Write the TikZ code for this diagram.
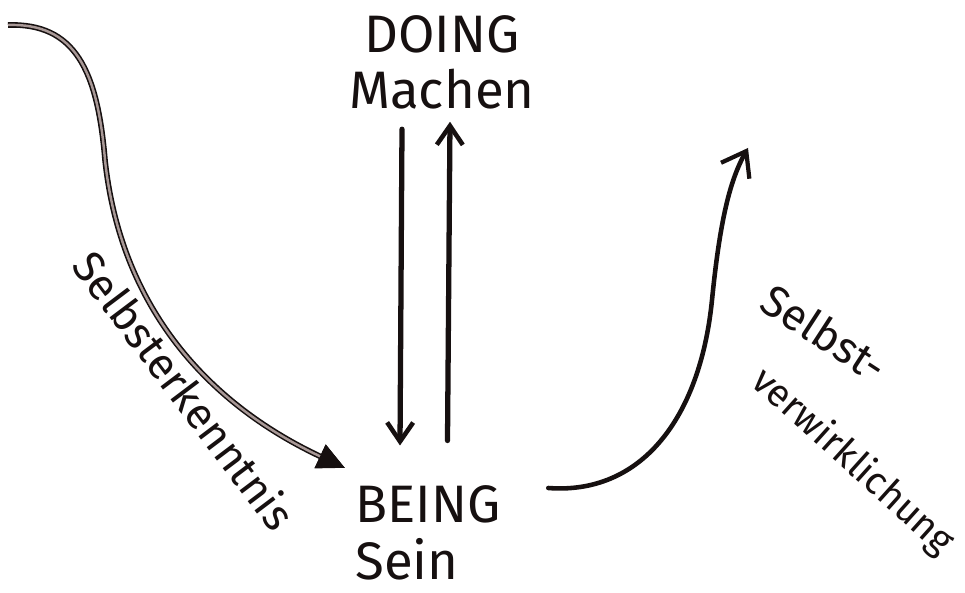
\documentclass[tikz,border=0pt]{standalone}
\usepackage{fontspec}
\setmainfont{Fira Sans}
\usetikzlibrary{arrows.meta,positioning,calc}
\definecolor{Ink}{HTML}{161010}
\definecolor{Trail}{HTML}{A89896}
\tikzset{
  word/.style={font=\fontsize{30}{32}\selectfont,text=Ink,inner sep=0pt},
  tilt/.style={font=\fontsize{25}{27}\selectfont,text=Ink,inner sep=0pt},
  arr/.style={-{Straight Barb[length=3.8mm,width=5.2mm,line width=2.6pt]},draw=Ink,line width=3pt,line cap=round},
  trail/.style={-{Triangle[length=5.5mm,width=5mm,color=Ink]},draw=Trail,line width=1.4pt,preaction={draw=Ink,line width=3.2pt}},
  rise/.style={-{Straight Barb[length=4.5mm,width=6.5mm,line width=2.4pt]},draw=Ink,line width=2.6pt,line cap=round}
}
\begin{document}
\begin{tikzpicture}
  \useasboundingbox (0,0) rectangle (19.3,11.86);
  % labels
  \node[word,align=center] (doing) at (8.84,10.62) {DOING\\Machen};
  \node[word,align=left,anchor=north west] (being) at (7.1,2.15) {BEING\\Sein};
  \node[tilt,rotate=-53] (erkennt) at (3.7,4.06) {Selbsterkenntnis};
  \node[tilt,rotate=-33] (selbst) at (16.5,5.2) {Selbst-};
  \node[tilt,font=\fontsize{22}{24}\selectfont,rotate=-42] (verw) at ([shift={(0.55,-2.58)}]selbst.center) {verwirklichung};
  % free ends of the curves
  \coordinate (lstart) at (0.16,11.36);
  \coordinate (rend) at (14.96,8.9);
  % doing <-> being
  \draw[arr] ([xshift=-0.8cm,yshift=-0.4cm]doing.south) -- ([xshift=0.9cm,yshift=0.8cm]being.north west);
  \draw[arr] ([xshift=1.85cm,yshift=0.9cm]being.north west) -- ([xshift=0.16cm,yshift=-0.25cm]doing.south);
  % curves
  \draw[trail] (lstart) .. controls (1.5,11.4) and (1.95,10.46) .. (2.1,8.66)
    .. controls (2.4,5.86) and (4.0,3.86) .. ([xshift=-0.2cm,yshift=0.35cm]being.north west);
  \draw[rise] ([xshift=0.95cm,yshift=-0.05cm]being.north east) .. controls (12.8,1.96) and (14.0,3.46) .. (14.24,5.86)
    .. controls (14.4,7.46) and (14.6,8.26) .. (rend);
\end{tikzpicture}
\end{document}
